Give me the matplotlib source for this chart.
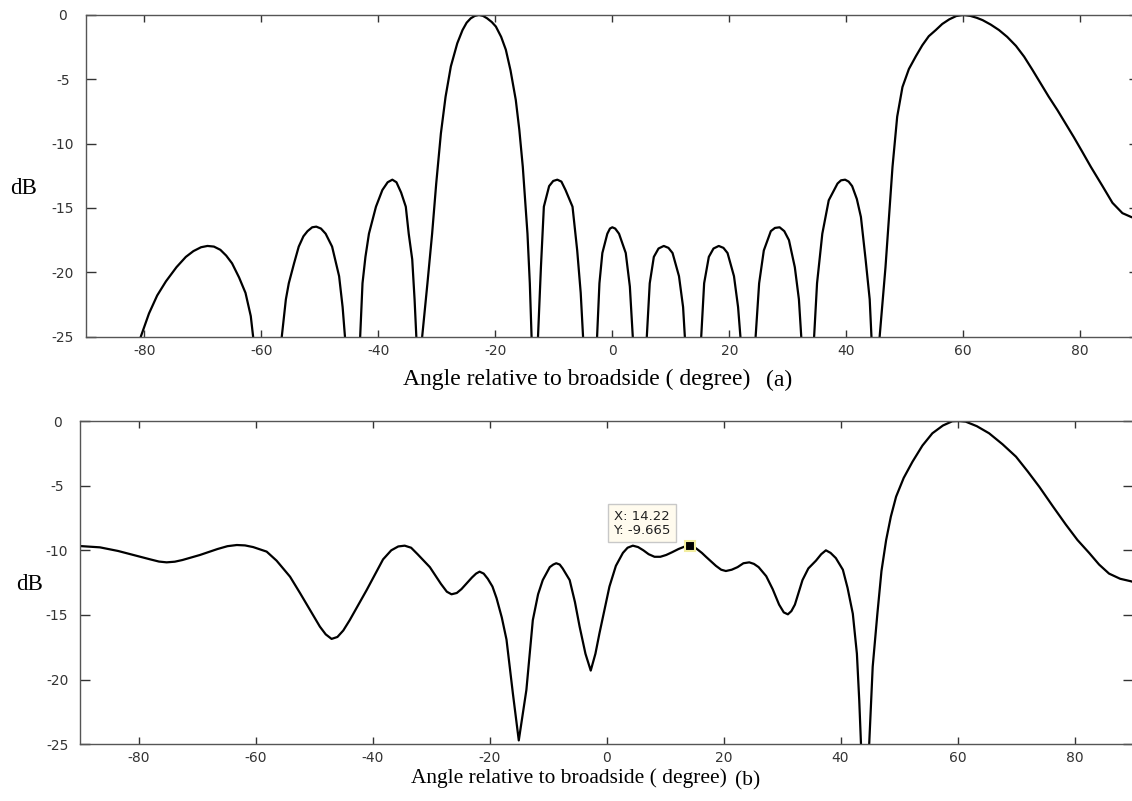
import numpy as np
import matplotlib.pyplot as plt

# Patron (a): lobulo principal en -22 y lobulo de rejilla en 60 (angulo, dB)
puntosA = [(-90.0, -40.0), (-80.6, -25.0), (-79.2, -23.2), (-77.8, -21.8), (-76.3, -20.7),
           (-74.5, -19.6), (-72.9, -18.8), (-71.6, -18.35), (-70.3, -18.05), (-69.2, -17.95),
           (-68.1, -18.0), (-67.0, -18.25), (-66.0, -18.7), (-65.0, -19.3), (-63.8, -20.4),
           (-62.7, -21.6), (-61.8, -23.4), (-61.4, -25.0), (-59.0, -45.0),
           (-56.5, -25.0), (-55.8, -22.1), (-55.3, -20.85), (-54.4, -19.3), (-53.6, -18.0),
           (-52.8, -17.2), (-52.1, -16.8), (-51.3, -16.5), (-50.6, -16.45), (-49.8, -16.6),
           (-49.0, -17.0), (-47.9, -18.0), (-46.7, -20.3), (-46.1, -22.7), (-45.7, -25.0), (-44.4, -45.0),
           (-43.1, -25.0), (-42.7, -20.85), (-42.2, -18.8), (-41.6, -17.0), (-40.4, -14.9),
           (-39.3, -13.6), (-38.4, -13.0), (-37.6, -12.8), (-36.9, -13.0), (-36.1, -13.8),
           (-35.3, -14.9), (-34.8, -17.0), (-34.2, -19.0), (-33.8, -22.1), (-33.5, -25.0), (-33.0, -45.0),
           (-32.5, -25.0), (-31.6, -20.85), (-30.8, -17.0), (-30.1, -13.1), (-29.3, -9.2),
           (-28.5, -6.35), (-27.6, -4.0), (-26.5, -2.2), (-25.6, -1.17), (-24.9, -0.6),
           (-24.2, -0.26), (-23.5, -0.07), (-22.8, 0.0), (-22.1, -0.07), (-21.4, -0.26),
           (-20.6, -0.55), (-19.9, -0.9), (-19.0, -1.7), (-18.2, -2.7), (-17.4, -4.3),
           (-16.5, -6.6), (-15.9, -8.9), (-15.3, -11.8), (-14.9, -14.4), (-14.5, -17.0),
           (-14.1, -20.85), (-13.8, -25.0), (-13.3, -45.0),
           (-12.7, -25.0), (-12.2, -19.6), (-11.7, -14.9), (-10.8, -13.3), (-10.1, -12.9),
           (-9.4, -12.8), (-8.7, -12.95), (-8.0, -13.6), (-6.8, -14.9), (-6.0, -18.3),
           (-5.4, -21.6), (-5.0, -25.0), (-3.8, -45.0),
           (-2.6, -25.0), (-2.2, -20.85), (-1.7, -18.5), (-0.85, -17.0), (-0.4, -16.6),
           (0.0, -16.5), (0.5, -16.6), (1.15, -17.0), (2.3, -18.5), (3.0, -21.1), (3.5, -25.0), (4.7, -45.0),
           (5.9, -25.0), (6.4, -20.85), (7.1, -18.8), (7.9, -18.15), (8.8, -17.95), (9.6, -18.1),
           (10.3, -18.5), (11.4, -20.3), (12.1, -22.7), (12.4, -25.0), (13.8, -45.0),
           (15.2, -25.0), (15.7, -20.85), (16.5, -18.8), (17.3, -18.15), (18.2, -17.95), (19.0, -18.1),
           (19.7, -18.5), (20.8, -20.3), (21.5, -22.7), (21.9, -25.0), (23.2, -45.0),
           (24.5, -25.0), (25.1, -20.85), (25.9, -18.3), (27.1, -16.8), (27.8, -16.55), (28.6, -16.5),
           (29.4, -16.8), (30.2, -17.5), (31.2, -19.6), (31.9, -22.1), (32.3, -25.0), (33.4, -45.0),
           (34.5, -25.0), (35.0, -20.85), (35.9, -17.0), (37.0, -14.4), (38.5, -13.1), (39.1, -12.85),
           (39.8, -12.8), (40.4, -12.95), (41.0, -13.3), (41.8, -14.3), (42.5, -15.7), (43.3, -19.0),
           (44.0, -22.1), (44.3, -25.0), (45.0, -45.0),
           (45.7, -25.0), (46.7, -19.6), (47.3, -15.7), (47.9, -11.8), (48.7, -7.9), (49.6, -5.6),
           (50.7, -4.2), (51.9, -3.2), (53.0, -2.35), (54.1, -1.65), (55.3, -1.17), (56.4, -0.7),
           (57.6, -0.34), (58.8, -0.08), (60.0, 0.0), (61.2, -0.07), (62.3, -0.22), (63.3, -0.4),
           (64.7, -0.75), (66.1, -1.17), (67.5, -1.7), (69.0, -2.4), (70.4, -3.24), (71.8, -4.25),
           (73.2, -5.3), (74.6, -6.35), (76.1, -7.4), (77.5, -8.45), (78.9, -9.5), (80.3, -10.6),
           (81.8, -11.8), (83.8, -13.3), (85.5, -14.6), (87.2, -15.4), (88.7, -15.7), (90.0, -15.9)]

# Patron (b): lobulos laterales cerca de -10 dB y nulo en 44 (angulo, dB)
puntosB = [(-90.0, -9.67), (-86.6, -9.77), (-83.5, -10.05), (-80.9, -10.36), (-78.0, -10.7),
           (-76.5, -10.87), (-75.2, -10.93), (-73.8, -10.88), (-72.5, -10.75), (-69.5, -10.36),
           (-66.5, -9.9), (-64.8, -9.68), (-63.2, -9.59), (-61.8, -9.62), (-60.4, -9.75),
           (-58.1, -10.1), (-56.4, -10.8), (-54.1, -12.04), (-52.4, -13.3), (-50.7, -14.6),
           (-49.0, -15.9), (-48.0, -16.5), (-47.0, -16.85), (-46.0, -16.7), (-45.0, -16.2),
           (-43.9, -15.4), (-42.4, -14.2), (-41.0, -13.07), (-39.5, -11.8), (-38.2, -10.7),
           (-36.8, -10.0), (-35.6, -9.7), (-34.5, -9.64), (-33.4, -9.8), (-32.3, -10.3),
           (-30.2, -11.3), (-28.3, -12.6), (-27.3, -13.2), (-26.5, -13.4), (-25.6, -13.3),
           (-24.8, -13.0), (-23.0, -12.1), (-22.3, -11.8), (-21.7, -11.65), (-21.0, -11.8),
           (-20.3, -12.2), (-19.5, -12.8), (-18.8, -13.7), (-17.9, -15.2), (-17.1, -16.9),
           (-16.0, -21.1), (-15.0, -24.7), (-13.7, -20.8), (-12.6, -15.4), (-11.7, -13.4),
           (-10.9, -12.3), (-9.7, -11.3), (-9.1, -11.1), (-8.6, -11.0), (-8.0, -11.1),
           (-7.5, -11.4), (-6.3, -12.3), (-5.4, -14.0), (-4.6, -15.9), (-3.6, -18.0),
           (-2.7, -19.3), (-1.9, -18.0), (-1.2, -16.4), (0.5, -12.8), (1.6, -11.2),
           (2.8, -10.2), (3.6, -9.8), (4.5, -9.64), (5.4, -9.75), (6.3, -10.0), (7.2, -10.3),
           (8.2, -10.5), (9.2, -10.5), (10.2, -10.36), (11.2, -10.15), (12.3, -9.9),
           (13.3, -9.72), (14.22, -9.665), (15.0, -9.75), (15.6, -9.95), (16.3, -10.2),
           (17.0, -10.5), (18.7, -11.2), (19.6, -11.5), (20.4, -11.6), (21.4, -11.5),
           (22.4, -11.3), (23.4, -11.0), (24.4, -10.93), (25.2, -11.05), (26.0, -11.3),
           (27.3, -12.0), (28.4, -13.0), (29.5, -14.2), (30.3, -14.8), (31.0, -14.95),
           (31.6, -14.7), (32.2, -14.2), (33.5, -12.3), (34.5, -11.4), (35.8, -10.8),
           (36.7, -10.3), (37.5, -10.0), (38.3, -10.2), (39.2, -10.6), (40.4, -11.5),
           (41.2, -12.9), (42.1, -14.9), (42.8, -18.0), (43.2, -21.6), (43.5, -25.0),
           (44.2, -45.0), (44.9, -25.0), (45.5, -19.0), (46.3, -14.9), (47.0, -11.6),
           (47.8, -9.2), (48.6, -7.4), (49.5, -5.85), (50.8, -4.4), (52.3, -3.15), (54.0, -1.9),
           (55.7, -0.95), (57.5, -0.35), (59.1, -0.02), (60.2, 0.0), (61.4, -0.05), (63.3, -0.4),
           (65.4, -0.95), (67.7, -1.8), (70.0, -2.76), (72.0, -3.9), (74.0, -5.1), (76.3, -6.6),
           (78.5, -8.0), (80.5, -9.2), (82.5, -10.2), (84.2, -11.1), (85.9, -11.8), (87.8, -12.2),
           (89.7, -12.4), (90.0, -12.45)]

anguloA, dbA = zip(*puntosA)
anguloB, dbB = zip(*puntosB)

# Punto marcado en el patron (b)
marcaX = 14.22
marcaY = -9.665

xTicks = [-80, -60, -40, -20, 0, 20, 40, 60, 80]
yTicks = [0, -5, -10, -15, -20, -25]

plt.rcParams['axes.unicode_minus'] = False


def configurarEjes(ax):
    #Limites y marcas de los ejes
    ax.set_xlim(-90, 90)
    ax.set_ylim(-25, 0)
    ax.set_xticks(xTicks)
    ax.set_yticks(yTicks)
    ax.tick_params(axis='both', direction='in', top=True, right=True, labelsize=10,
                   labelcolor='#333333', color='#333333', width=1.0)
    ax.tick_params(axis='x', length=5, pad=5)
    ax.tick_params(axis='y', length=7.2, pad=16.5)
    #Las etiquetas del eje y van centradas
    for etiqueta in ax.get_yticklabels():
        etiqueta.set_horizontalalignment('center')
    for spine in ax.spines.values():
        spine.set_color('#555555')
        spine.set_linewidth(1.0)


fig = plt.figure(figsize=(11.32, 8.01), dpi=100)

#Grafica del patron (a)
axA = fig.add_axes([0.0758, 0.5797, 0.9302, 0.4016])
axA.plot(anguloA, dbA, color='black', linewidth=1.6)
configurarEjes(axA)

#Grafica del patron (b)
axB = fig.add_axes([0.0707, 0.0708, 0.9302, 0.4036])
axB.plot(anguloB, dbB, color='black', linewidth=1.6)
configurarEjes(axB)

#Marca del punto y su etiqueta
axB.plot([marcaX], [marcaY], marker='s', markersize=7, color='black',
         markeredgecolor='#f3eea0', markeredgewidth=1.5, zorder=5)
axB.text(1.2, -6.85, f"X: {marcaX}\nY: {marcaY}", fontsize=9.5, color='#222222',
         ha='left', va='top', linespacing=1.1, family='DejaVu Sans',
         bbox=dict(boxstyle='square,pad=0.4', facecolor='#fffbee', edgecolor='#c8c8c8', linewidth=1))

#Etiquetas en letra serif
serif = 'Liberation Serif'
fig.text(577 / 1132, 1 - 385 / 801, "Angle relative to broadside ( degree)", family=serif,
         fontsize=17, ha='center', va='baseline')
fig.text(779 / 1132, 1 - 386 / 801, "(a)", family=serif, fontsize=17, ha='center', va='baseline')
fig.text(569 / 1132, 1 - 783 / 801, "Angle relative to broadside ( degree)", family=serif,
         fontsize=15.4, ha='center', va='baseline')
fig.text(748 / 1132, 1 - 785 / 801, "(b)", family=serif, fontsize=15.4, ha='center', va='baseline')
fig.text(23.5 / 1132, 1 - 188 / 801, "dB", family=serif, fontsize=16.5, ha='center', va='center')
fig.text(30 / 1132, 1 - 585 / 801, "dB", family=serif, fontsize=16.5, ha='center', va='center')

plt.savefig("out.png", dpi=100)
